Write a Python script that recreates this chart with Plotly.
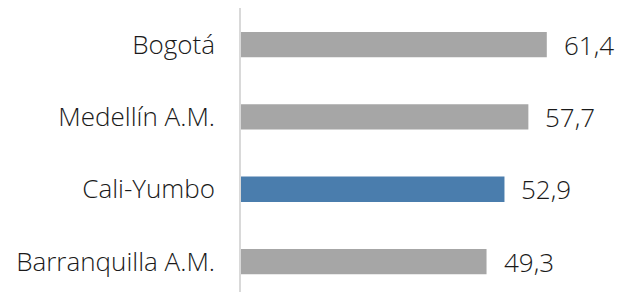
import plotly.graph_objects as go

categories = ["Barranquilla A.M.", "Cali-Yumbo", "Medellín A.M.", "Bogotá"]
values = [49.3, 52.9, 57.7, 61.4]
colors = ["#A6A6A6", "#4A7DAD", "#A6A6A6", "#A6A6A6"]

FONT = "Open Sans"
SIZE = 26

fig = go.Figure(go.Bar(
    y=categories, x=values, orientation="h",
    marker=dict(color=colors, line=dict(width=0)),
    width=0.35,
    hoverinfo="skip",
))

for c, v in zip(categories, values):
    fig.add_annotation(x=v, y=c, text=f"{v:.1f}".replace(".", ","),
                       showarrow=False, xanchor="left", xshift=15,
                       font=dict(family=FONT, size=SIZE, color="#1a1a1a", weight=350))

fig.update_layout(
    width=623, height=292,
    margin=dict(l=241, r=0, t=8, b=0),
    paper_bgcolor="white", plot_bgcolor="white",
    showlegend=False,
    separators=",.",
    xaxis=dict(range=[0, 76.7], visible=False, fixedrange=True, automargin=False),
    yaxis=dict(categoryorder="array", categoryarray=categories,
               range=[-0.42, 3.505], automargin=False, fixedrange=True,
               showline=True, linecolor="#D9D9D9", linewidth=1.5,
               ticks="outside", ticklen=19, tickcolor="rgba(0,0,0,0)",
               showgrid=False, zeroline=False,
               tickfont=dict(family=FONT, size=SIZE, color="#1a1a1a", weight=350)),
)

fig.write_html("out.html", config={"displayModeBar": False},
               post_script="document.body.style.margin='0';document.body.style.overflow='hidden';")
